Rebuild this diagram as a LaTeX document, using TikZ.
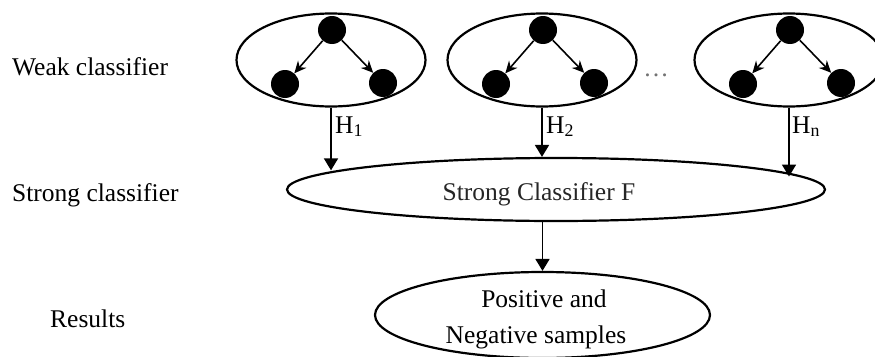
\documentclass[tikz,border=0pt]{standalone}
\usepackage{fontspec}
\setmainfont{Liberation Serif}
\usetikzlibrary{shapes.geometric,arrows.meta}
\begin{document}
\begin{tikzpicture}[x=1pt,y=-1pt,
  txt/.style={inner sep=0pt,font=\fontsize{25.5}{30}\selectfont},
  weak/.style={ellipse,draw,line width=2.2pt,minimum width=189pt,minimum height=93pt,inner sep=0pt},
  big/.style={ellipse,draw,line width=2.2pt,inner sep=0pt},
  dot/.style={circle,fill=black,minimum size=28pt,inner sep=0pt},
  tree/.style={line width=1.6pt,-{Stealth[length=12pt,width=11pt]}},
  flow/.style={line width=1.8pt,-{Triangle[length=12pt,width=14pt]}}]
\clip (0,0) rectangle (875,356);

% row labels
\node[txt,anchor=base west] (lweak)   at (12,75)  {Weak classifier};
\node[txt,anchor=base west] (lstrong) at (12,201) {Strong classifier};
\node[txt,anchor=base west] (lres)    at (50,327) {Results};

% weak classifiers: one small tree inside each ellipse
\foreach \i/\cx in {1/331,2/542,3/789}{
  \node[weak] (e\i) at (\cx,60) {};
  \node[dot] (t\i) at (\cx+1,30) {};
  \node[dot] (l\i) at (\cx-46,84) {};
  \node[dot] (r\i) at (\cx+52,83) {};
  \draw[tree] (t\i) -- (l\i);
  \draw[tree] (t\i) -- (r\i);
}
\node[txt,anchor=base,text=black!55] (dots) at (656,76) {\dots};

% strong classifier
\node[big,minimum width=538pt,minimum height=63pt] (strong) at (556,189.5) {};
\node[txt,anchor=base,text=black!85] (strongtxt) at (539,200) {Strong Classifier F};

% results
\node[big,minimum width=335pt,minimum height=86pt] (res) at (542.5,315) {};
\node[txt,anchor=base] (res1) at (544,307) {Positive and};
\node[txt,anchor=base] (res2) at (536,343) {Negative samples};

% weak outputs into the strong classifier
\draw[flow] (e1.south) -- (e1.south |- strong.175.6);
\draw[flow] (e2.south) -- (e2.south |- strong.north);
\draw[flow] (e3.south) -- (e3.south |- strong.3.86);
\node[txt,anchor=base west] (h1) at (335,133) {H\textsubscript{1}};
\node[txt,anchor=base west] (h2) at (546,133) {H\textsubscript{2}};
\node[txt,anchor=base west] (hn) at (792,133) {H\textsubscript{n}};

% strong classifier to results
\draw[flow] (res.north |- strong.south) -- (res.north);
\end{tikzpicture}
\end{document}
